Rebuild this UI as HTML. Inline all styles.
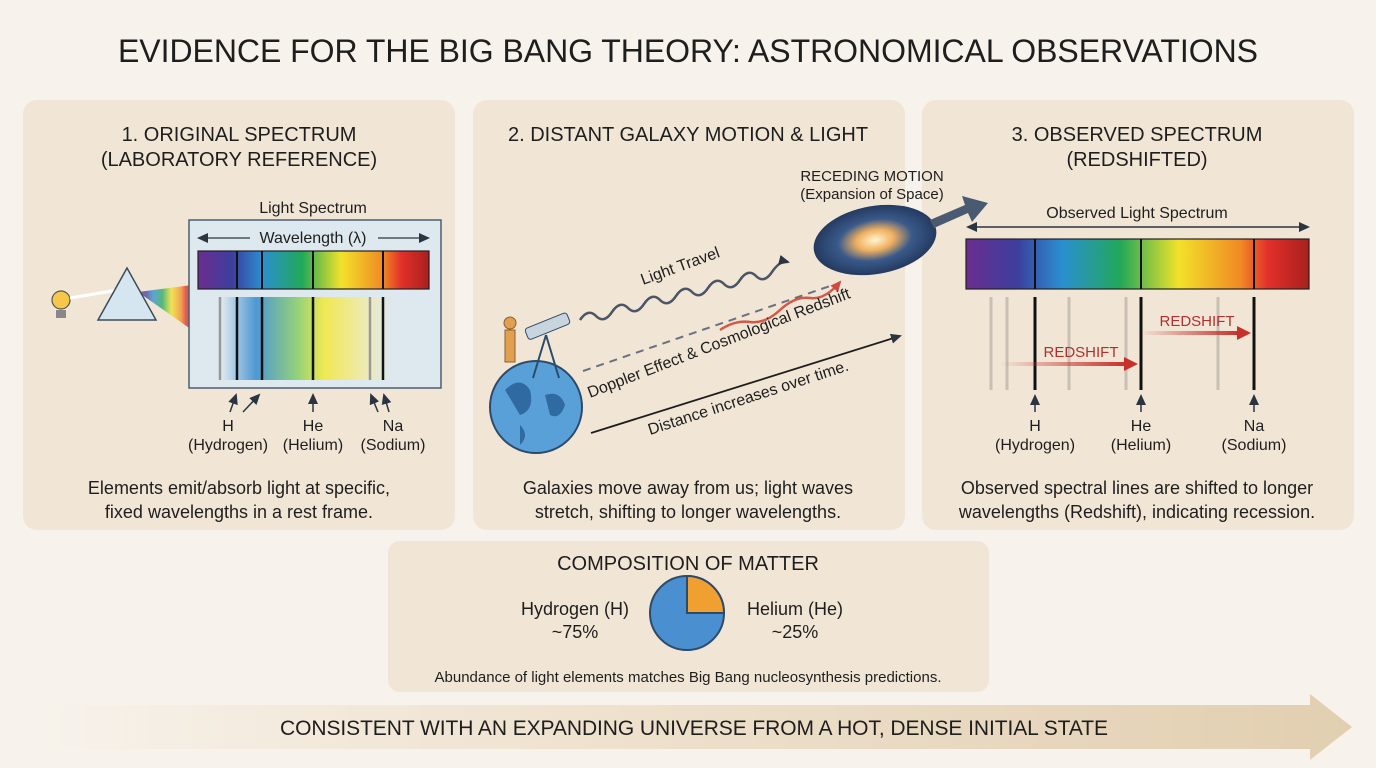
<!DOCTYPE html>
<html><head><meta charset="utf-8"><style>
html,body{margin:0;padding:0;background:#f7f2eb;}
svg{display:block;font-family:"Liberation Sans",Arial,sans-serif;}
</style></head><body>
<svg width="1376" height="768" viewBox="0 0 1376 768" xmlns="http://www.w3.org/2000/svg">
<defs>
<linearGradient id="spec" x1="0" x2="1">
<stop offset="0" stop-color="#6b2d8f"/><stop offset="0.15" stop-color="#3c3f9e"/><stop offset="0.28" stop-color="#2a8fd0"/>
<stop offset="0.45" stop-color="#22a85a"/><stop offset="0.62" stop-color="#f2e22a"/><stop offset="0.8" stop-color="#f08a24"/>
<stop offset="0.88" stop-color="#e2302a"/><stop offset="1" stop-color="#a8201e"/></linearGradient>
<linearGradient id="soft" x1="0" x2="1">
<stop offset="0" stop-color="#dde8ef"/><stop offset="0.2" stop-color="#3e8fd0"/><stop offset="0.45" stop-color="#8ed06a"/>
<stop offset="0.6" stop-color="#f2e840"/><stop offset="0.85" stop-color="#f0eab0"/><stop offset="1" stop-color="#dde8ef"/></linearGradient>
<linearGradient id="band" x1="0" x2="1">
<stop offset="0" stop-color="#f7f2eb"/><stop offset="0.4" stop-color="#efe2cf"/><stop offset="1" stop-color="#e2cfb1"/></linearGradient>
<linearGradient id="red" x1="0" x2="1"><stop offset="0" stop-color="#c8302a" stop-opacity="0"/><stop offset="1" stop-color="#c8302a"/></linearGradient>
<radialGradient id="gal"><stop offset="0" stop-color="#fff6d0"/><stop offset="0.3" stop-color="#f0b060"/><stop offset="0.6" stop-color="#3a5a8a"/><stop offset="1" stop-color="#243a60"/></radialGradient>
<marker id="ah" markerUnits="userSpaceOnUse" markerWidth="11" markerHeight="10" refX="9" refY="5" orient="auto"><path d="M0,0 L11,5 L0,10 z" fill="#2b3440"/></marker>
<marker id="ahr" markerUnits="userSpaceOnUse" markerWidth="11" markerHeight="10" refX="9" refY="5" orient="auto"><path d="M0,0 L11,5 L0,10 z" fill="#c8302a"/></marker>
</defs>
<rect width="1376" height="768" fill="#f7f2eb"/>
<text x="688" y="62" text-anchor="middle" font-size="32" textLength="1140" fill="#1e1e1e">EVIDENCE FOR THE BIG BANG THEORY: ASTRONOMICAL OBSERVATIONS</text>

<rect x="23" y="100" width="432" height="430" rx="14" fill="#f1e6d6"/>
<rect x="473" y="100" width="432" height="430" rx="14" fill="#f1e6d6"/>
<rect x="922" y="100" width="432" height="430" rx="14" fill="#f1e6d6"/>
<rect x="388" y="541" width="601" height="151" rx="12" fill="#f1e6d6"/>

<g font-size="20" fill="#1e1e1e" text-anchor="middle">
<text x="239" y="141">1. ORIGINAL SPECTRUM</text><text x="239" y="166">(LABORATORY REFERENCE)</text>
<text x="688" y="141">2. DISTANT GALAXY MOTION &amp; LIGHT</text>
<text x="1137" y="141">3. OBSERVED SPECTRUM</text><text x="1137" y="166">(REDSHIFTED)</text>
</g>
<text x="313" y="213" text-anchor="middle" font-size="16" fill="#1e1e1e">Light Spectrum</text>
<polygon points="138,292 192,285 192,330" fill="url(#spec)" opacity="0.75"/>
<circle cx="61" cy="300" r="9" fill="#f6c84a" stroke="#555" stroke-width="1.2"/>
<rect x="56" y="310" width="10" height="8" fill="#888"/>
<line x1="70" y1="298" x2="118" y2="290" stroke="#fff" stroke-width="3"/>
<polygon points="127,268 98,320 156,320" fill="#d6e6f0" stroke="#3a4a5a" stroke-width="1.5"/>
<rect x="189" y="220" width="252" height="168" fill="#dde8ef" stroke="#4a5f73" stroke-width="1.5"/>
<text x="313" y="243" text-anchor="middle" font-size="16" fill="#1e1e1e">Wavelength (λ)</text>
<line x1="250" y1="238" x2="199" y2="238" stroke="#2b3440" stroke-width="1.3" marker-end="url(#ah)"/>
<line x1="378" y1="238" x2="428" y2="238" stroke="#2b3440" stroke-width="1.3" marker-end="url(#ah)"/>
<rect x="198" y="251" width="231" height="38" fill="url(#spec)" stroke="#222" stroke-width="1.2"/>
<g stroke="#111" stroke-width="2"><line x1="237" y1="251" x2="237" y2="289"/><line x1="262" y1="251" x2="262" y2="289"/><line x1="313" y1="251" x2="313" y2="289"/><line x1="383" y1="251" x2="383" y2="289"/></g>
<rect x="222" y="297" width="170" height="83" fill="url(#soft)" opacity="0.9"/>
<g stroke-width="2.5"><line x1="220" y1="297" x2="220" y2="380" stroke="#999"/><line x1="237" y1="297" x2="237" y2="380" stroke="#111"/><line x1="262" y1="297" x2="262" y2="380" stroke="#111"/><line x1="313" y1="297" x2="313" y2="380" stroke="#111"/><line x1="370" y1="297" x2="370" y2="380" stroke="#999"/><line x1="383" y1="297" x2="383" y2="380" stroke="#111"/></g>
<g stroke="#2b3440" stroke-width="1.5" marker-end="url(#ah)"><line x1="230" y1="412" x2="236" y2="395"/><line x1="243" y1="412" x2="259" y2="395"/><line x1="313" y1="412" x2="313" y2="395"/><line x1="378" y1="412" x2="371" y2="395"/><line x1="389" y1="412" x2="384" y2="395"/></g>
<g font-size="16" fill="#1e1e1e" text-anchor="middle">
<text x="228" y="431">H</text><text x="228" y="450">(Hydrogen)</text>
<text x="313" y="431">He</text><text x="313" y="450">(Helium)</text>
<text x="393" y="431">Na</text><text x="393" y="450">(Sodium)</text>
</g>
<g font-size="18" fill="#1e1e1e" text-anchor="middle">
<text x="239" y="494">Elements emit/absorb light at specific,</text><text x="239" y="518">fixed wavelengths in a rest frame.</text>
<text x="688" y="494">Galaxies move away from us; light waves</text><text x="688" y="518">stretch, shifting to longer wavelengths.</text>
<text x="1137" y="494">Observed spectral lines are shifted to longer</text><text x="1137" y="518">wavelengths (Redshift), indicating recession.</text>
</g>

<circle cx="536" cy="407" r="46" fill="#5aa0d8" stroke="#2c4a6a" stroke-width="2"/>
<path d="M505,390 q15,-15 25,0 q5,20 -10,25 z M545,395 q15,-5 20,10 q-5,15 -15,10 z M520,425 q10,10 0,20 z" fill="#2f6aa0"/>
<rect x="505" y="330" width="10" height="32" fill="#e0a050" stroke="#8a6030"/><circle cx="510" cy="323" r="6" fill="#e0a050" stroke="#8a6030"/>
<rect x="525" y="320" width="45" height="12" rx="3" fill="#c8d4de" stroke="#2c4a6a" transform="rotate(-22 548 326)"/>
<g stroke="#2c4a6a" stroke-width="2"><line x1="546" y1="335" x2="533" y2="378"/><line x1="546" y1="335" x2="559" y2="378"/></g>
<path d="M580,320 q8,-12 16,-4 t16,-4 t16,-4 t16,-4 t16,-4 t16,-4 t16,-4 t16,-4 t16,-4 t16,-4 t16,-4 t16,-4 t16,-10" fill="none" stroke="#4a5666" stroke-width="2.5" marker-end="url(#ah)"/>
<text font-size="16" fill="#1e1e1e" transform="translate(643,285) rotate(-20)">Light Travel</text>
<line x1="583" y1="371" x2="830" y2="286" stroke="#6a7080" stroke-width="2" stroke-dasharray="8,6"/>
<path d="M720,330 q15,-10 30,-8 t30,-12 t30,-12 t30,-16" fill="none" stroke="#d04030" stroke-width="2.5" marker-end="url(#ahr)" opacity="0.85"/>
<text font-size="16" fill="#1e1e1e" transform="translate(590,398) rotate(-21)">Doppler Effect &amp; Cosmological Redshift</text>
<line x1="591" y1="433" x2="900" y2="336" stroke="#1e1e1e" stroke-width="1.8" marker-end="url(#ah)"/>
<text font-size="16" fill="#1e1e1e" transform="translate(650,435) rotate(-18)">Distance increases over time.</text>
<ellipse cx="875" cy="240" rx="62" ry="34" fill="url(#gal)" transform="rotate(-10 875 240)"/>
<text x="872" y="181" text-anchor="middle" font-size="15" fill="#1e1e1e">RECEDING MOTION</text>
<text x="872" y="199" text-anchor="middle" font-size="15" fill="#1e1e1e">(Expansion of Space)</text>
<path d="M930,220 L965,205 L962,196 L988,203 L972,222 L968,213 L934,228 z" fill="#4a5a70"/>

<text x="1137" y="218" text-anchor="middle" font-size="16" fill="#1e1e1e">Observed Light Spectrum</text>
<line x1="1100" y1="227" x2="968" y2="227" stroke="#2b3440" stroke-width="1.5" marker-end="url(#ah)"/>
<line x1="1100" y1="227" x2="1308" y2="227" stroke="#2b3440" stroke-width="1.5" marker-end="url(#ah)"/>
<rect x="966" y="239" width="343" height="50" fill="url(#spec)" stroke="#222" stroke-width="1.2"/>
<g stroke="#111" stroke-width="2"><line x1="1035" y1="239" x2="1035" y2="289"/><line x1="1141" y1="239" x2="1141" y2="289"/><line x1="1254" y1="239" x2="1254" y2="289"/></g>
<g stroke="#c8c0b4" stroke-width="3"><line x1="991" y1="297" x2="991" y2="390"/><line x1="1007" y1="297" x2="1007" y2="390"/><line x1="1069" y1="297" x2="1069" y2="390"/><line x1="1126" y1="297" x2="1126" y2="390"/><line x1="1218" y1="297" x2="1218" y2="390"/></g>
<g stroke="#111" stroke-width="3"><line x1="1035" y1="297" x2="1035" y2="390"/><line x1="1141" y1="297" x2="1141" y2="390"/><line x1="1254" y1="297" x2="1254" y2="390"/></g>
<rect x="1000" y="362" width="126" height="4" fill="url(#red)"/>
<polygon points="1124,357 1138,364 1124,371" fill="#c8302a"/>
<rect x="1140" y="331" width="99" height="4" fill="url(#red)"/>
<polygon points="1237,326 1251,333 1237,340" fill="#c8302a"/>
<text x="1081" y="357" text-anchor="middle" font-size="15" fill="#b03030">REDSHIFT</text>
<text x="1197" y="326" text-anchor="middle" font-size="15" fill="#b03030">REDSHIFT</text>
<g stroke="#2b3440" stroke-width="1.5" marker-end="url(#ah)"><line x1="1035" y1="412" x2="1035" y2="396"/><line x1="1141" y1="412" x2="1141" y2="396"/><line x1="1254" y1="412" x2="1254" y2="396"/></g>
<g font-size="16" fill="#1e1e1e" text-anchor="middle">
<text x="1035" y="431">H</text><text x="1035" y="450">(Hydrogen)</text>
<text x="1141" y="431">He</text><text x="1141" y="450">(Helium)</text>
<text x="1254" y="431">Na</text><text x="1254" y="450">(Sodium)</text>
</g>

<text x="688" y="570" text-anchor="middle" font-size="20" fill="#1e1e1e">COMPOSITION OF MATTER</text>
<circle cx="687" cy="613" r="37" fill="#4a90d0" stroke="#2c4a6a" stroke-width="2"/>
<path d="M687,613 L687,576 A37,37 0 0 1 724,613 z" fill="#f0a030" stroke="#2c4a6a" stroke-width="2"/>
<g font-size="18" fill="#1e1e1e" text-anchor="middle">
<text x="575" y="615">Hydrogen (H)</text><text x="575" y="638">~75%</text>
<text x="795" y="615">Helium (He)</text><text x="795" y="638">~25%</text>
</g>
<text x="688" y="682" text-anchor="middle" font-size="15" fill="#1e1e1e">Abundance of light elements matches Big Bang nucleosynthesis predictions.</text>
<path d="M40,705 L1310,705 L1310,694 L1352,727 L1310,760 L1310,749 L40,749 z" fill="url(#band)"/>
<text x="694" y="735" text-anchor="middle" font-size="21" textLength="828" fill="#1e1e1e">CONSISTENT WITH AN EXPANDING UNIVERSE FROM A HOT, DENSE INITIAL STATE</text>
</svg>
</body></html>
